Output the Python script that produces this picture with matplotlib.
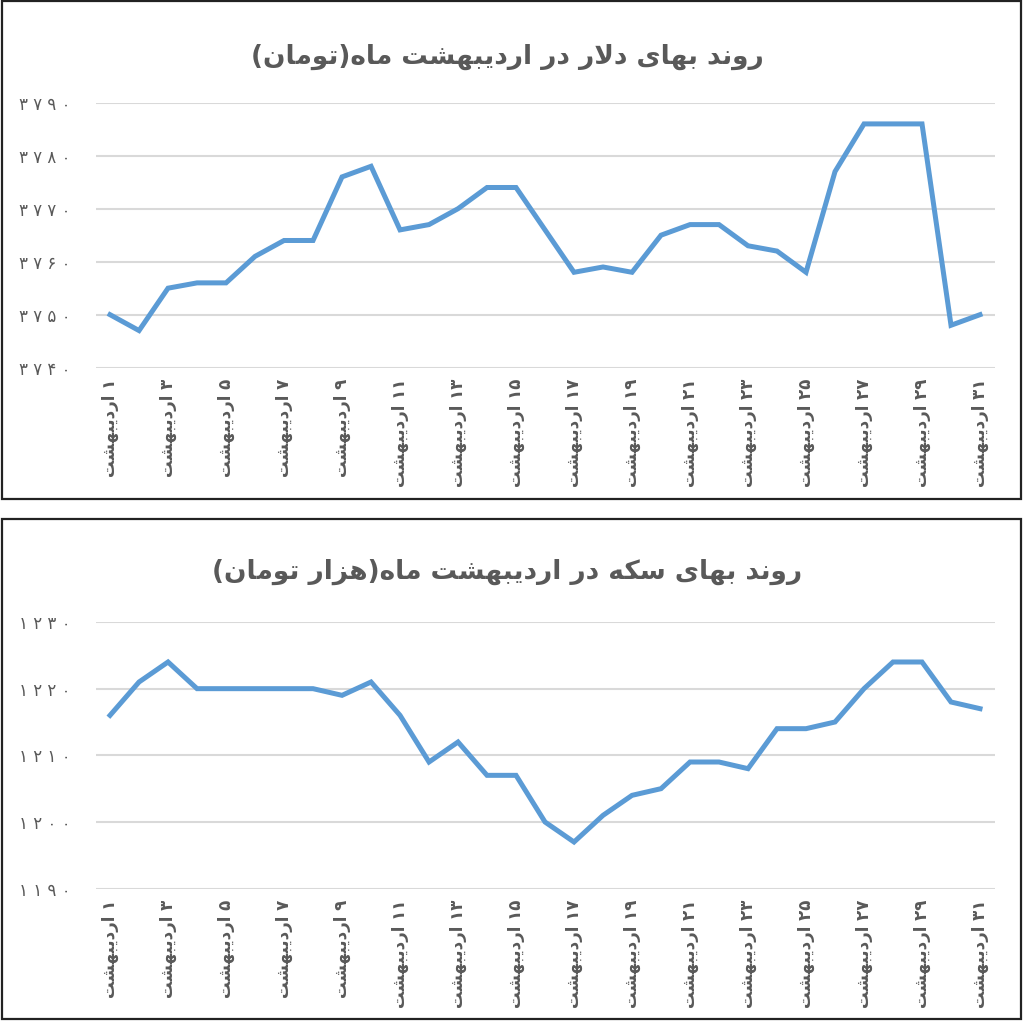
import re
import matplotlib
matplotlib.use("Agg")
import matplotlib.pyplot as plt
from matplotlib.patches import Rectangle

# data (31 days of Ordibehesht)
days = list(range(1, 32))
dollar = [3750, 3747, 3755, 3756, 3756, 3761, 3764, 3764, 3776, 3778,
          3766, 3767, 3770, 3774, 3774, 3766, 3758, 3759, 3758, 3765,
          3767, 3767, 3763, 3762, 3758, 3777, 3786, 3786, 3786, 3748, 3750]
coin = [1216, 1221, 1224, 1220, 1220, 1220, 1220, 1220, 1219, 1221,
        1216, 1209, 1212, 1207, 1207, 1200, 1197, 1201, 1204, 1205,
        1209, 1209, 1208, 1214, 1214, 1215, 1220, 1224, 1224, 1218, 1217]
dollar_ticks = [3740, 3750, 3760, 3770, 3780, 3790]
coin_ticks = [1190, 1200, 1210, 1220, 1230]
title_dollar = "روند بهای دلار در اردیبهشت ماه(تومان)"
title_coin = "روند بهای سکه در اردیبهشت ماه(هزار تومان)"
month = "اردیبهشت"

# matplotlib has no arabic shaping, so do a small one by hand
FORMS = {
    'ا': (0xFE8D, 0xFE8E, None, None),
    'ب': (0xFE8F, 0xFE90, 0xFE91, 0xFE92),
    'ت': (0xFE95, 0xFE96, 0xFE97, 0xFE98),
    'د': (0xFEA9, 0xFEAA, None, None),
    'ر': (0xFEAD, 0xFEAE, None, None),
    'ز': (0xFEAF, 0xFEB0, None, None),
    'س': (0xFEB1, 0xFEB2, 0xFEB3, 0xFEB4),
    'ش': (0xFEB5, 0xFEB6, 0xFEB7, 0xFEB8),
    'ک': (0xFED9, 0xFEDA, 0xFEDB, 0xFEDC),
    'ل': (0xFEDD, 0xFEDE, 0xFEDF, 0xFEE0),
    'م': (0xFEE1, 0xFEE2, 0xFEE3, 0xFEE4),
    'ن': (0xFEE5, 0xFEE6, 0xFEE7, 0xFEE8),
    'ه': (0xFEE9, 0xFEEA, 0xFEEB, 0xFEEC),
    'و': (0xFEED, 0xFEEE, None, None),
    'ی': (0xFEEF, 0xFEF0, 0xFEF3, 0xFEF4),
}


def shape(s):
    out = []
    i = 0
    while i < len(s):
        ch = s[i]
        prev = s[i - 1] if i > 0 else ''
        jp = prev in FORMS and FORMS[prev][2] is not None
        if ch == 'ل' and i + 1 < len(s) and s[i + 1] == 'ا':
            out.append(chr(0xFEFC if jp else 0xFEFB))
            i += 2
            continue
        if ch not in FORMS:
            out.append(ch)
            i += 1
            continue
        nxt = s[i + 1] if i + 1 < len(s) else ''
        jn = nxt in FORMS and FORMS[ch][2] is not None
        iso, fin, ini, med = FORMS[ch]
        if jp and jn:
            out.append(chr(med))
        elif jp:
            out.append(chr(fin))
        elif jn:
            out.append(chr(ini))
        else:
            out.append(chr(iso))
        i += 1
    vis = ''.join(out)[::-1]
    vis = vis.translate(str.maketrans('()', ')('))
    vis = re.sub('[۰-۹]+', lambda m: m.group(0)[::-1], vis)
    return vis


def fa_num(n, sep=' '):
    return sep.join('۰۱۲۳۴۵۶۷۸۹'[int(d)] for d in str(n))


plt.rcParams['font.family'] = ['DejaVu Sans']
grey = '#595959'
blue = '#5B9BD5'

fig = plt.figure(figsize=(10.24, 10.21), dpi=100)

panels = [
    (dollar, dollar_ticks, title_dollar, [0.0933, 0.6399, 0.8779, 0.2595], 0.944),
    (coin, coin_ticks, title_coin, [0.0933, 0.1296, 0.8779, 0.2612], 0.4397),
]

for vals, ticks, title, rect, ty in panels:
    ax = fig.add_axes(rect)
    ax.plot(days, vals, color=blue, lw=3.6, solid_joinstyle='miter')
    ax.set_xlim(0.5, 31.5)
    ax.set_ylim(ticks[0], ticks[-1])
    ax.set_yticks(ticks)
    ax.set_yticklabels([fa_num(t) for t in ticks], color=grey, fontsize=12)
    odd = days[::2]
    ax.set_xticks(odd)
    ax.set_xticklabels([shape(fa_num(d, '') + ' ' + month) for d in odd],
                       rotation=90, color=grey, fontsize=12, fontweight='bold')
    ax.tick_params(length=0, axis='y', pad=18)
    ax.tick_params(length=0, axis='x', pad=8)
    ax.grid(axis='y', color='#d9d9d9', lw=1.5)
    ax.set_axisbelow(True)
    for sp in ax.spines.values():
        sp.set_visible(False)
    fig.text(0.495, ty, shape(title), ha='center', va='center',
             fontsize=19, fontweight='bold', color=grey)

# panel frames
for y0, h in [((1021 - 499) / 1021, 498 / 1021), (2 / 1021, 500 / 1021)]:
    fig.add_artist(Rectangle((0.002, y0), 0.995, h, transform=fig.transFigure,
                             fill=False, ec='#222222', lw=1.6))

fig.savefig('out.png', dpi=100)
